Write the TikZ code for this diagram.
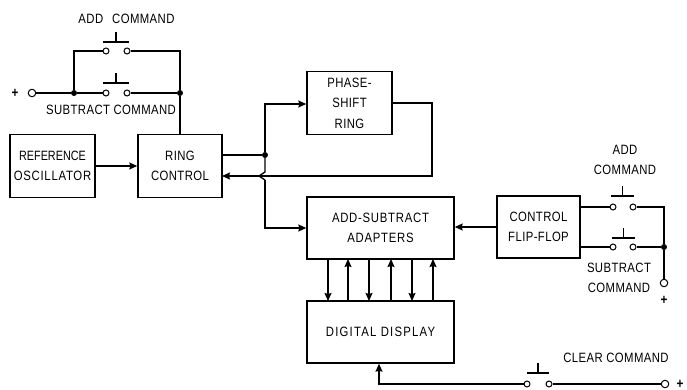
\documentclass[tikz,border=0pt]{standalone}
\usepackage{fontspec}
\setmainfont[FakeStretch=0.84,LetterSpace=3]{Liberation Sans}
\newfontfamily\widefont[FakeStretch=0.84,LetterSpace=9]{Liberation Sans}
\newfontfamily\midfont[FakeStretch=0.84,LetterSpace=5.5]{Liberation Sans}
\newfontfamily\tightfont[FakeStretch=0.8,LetterSpace=0]{Liberation Sans}
\usetikzlibrary{arrows.meta}
\tikzset{
  x=1pt,y=-1pt,
  wire/.style={line width=1.3pt,line join=miter},
  flow/.style={wire,-{Stealth[length=8pt,width=7pt,inset=1pt]}},
  blockbox/.style={draw,line width=1.4pt,inner sep=0pt,align=center,font=\fontsize{13.5}{20.5}\selectfont},
  label/.style={inner sep=0pt,align=center,font=\fontsize{13.5}{20.5}\selectfont},
  contact/.style={circle,draw,line width=1pt,fill=white,inner sep=0pt,minimum size=6pt},
  terminal/.style={circle,draw,line width=1pt,fill=white,inner sep=0pt,minimum size=7.5pt},
  dotj/.style={circle,fill=black,inner sep=0pt,minimum size=6pt},
  plus/.style={inner sep=0pt,font=\fontsize{14}{14}\selectfont\bfseries},
}
\newcommand{\pushbtn}[4]{% name, bar left, bar right, bar y
  \coordinate (#1l) at (#2,#4);
  \coordinate (#1r) at (#3,#4);
  \coordinate (#1b) at ({(#2+#3)/2},#4);
  \coordinate (#1t) at ({(#2+#3)/2},#4-10);
  \draw[wire] (#1l) -- (#1r);
  \draw[wire] (#1b) -- (#1t);
}
\begin{document}
\begin{tikzpicture}
\useasboundingbox (0,0) rectangle (687,390);
% blocks
\node[blockbox,minimum width=85pt,minimum height=63pt] (ref) at (52.5,166) {{\tightfont REFERENCE}\\{\midfont OSCILLATOR}};
\node[blockbox,minimum width=84pt,minimum height=63pt] (ring) at (180,166) {RING\\CONTROL};
\node[blockbox,minimum width=85pt,minimum height=63pt] (phase) at (349.5,103) {PHASE-\\SHIFT\\RING};
\node[blockbox,minimum width=147pt,minimum height=62pt] (adapt) at (380.5,228) {\midfont ADD-SUBTRACT\\\midfont ADAPTERS};
\node[blockbox,minimum width=83pt,minimum height=62pt] (ff) at (538.5,227) {CONTROL\\FLIP-FLOP};
\node[blockbox,minimum width=147pt,minimum height=62pt] (disp) at (380.5,332) {\widefont DIGITAL DISPLAY};
% top-left switches
\node[plus] (p1) at (15,93) {+};
\node[terminal] (t1) at (32,93) {};
\node[dotj] (j1) at (74,93) {};
\coordinate (c1) at (74,51);
\node[contact] (a1) at (106,51) {};
\node[contact] (a2) at (127,51) {};
\node[contact] (s1) at (106,93) {};
\node[contact] (s2) at (127,93) {};
\node[dotj] (j2) at (180,93) {};
\coordinate (c2) at (180,51);
\coordinate (r1) at (180,135);
\draw[wire,line width=1.7pt] (t1) -- (j1) -- (s1);
\draw[wire,line width=1.7pt] (j1) -- (c1) -- (a1);
\draw[wire] (a2) -- (c2) -- (j2) -- (r1);
\draw[wire] (s2) -- (j2);
\pushbtn{ba}{103}{129}{42}
\pushbtn{bs}{103}{129}{83}
\node[label] (tadd) at (126.5,19) {ADD\hspace{9pt}COMMAND};
\node[label] (tsub) at (111,110) {SUBTRACT COMMAND};
% centre
\draw[flow] (ref.east) -- (ring.west |- ref.east);
\coordinate (ro) at (222,155);
\node[dotj] (j3) at (265,155) {};
\coordinate (u1) at (265,104);
\coordinate (d1) at (265,180);
\coordinate (d0) at (265,172);
\coordinate (d2) at (265,228);
\coordinate (hop) at (259,176);
\coordinate (ph1) at (432,103);
\coordinate (ph2) at (432,176);
\coordinate (ri) at (222,176);
\draw[wire] (ro) -- (j3);
\draw[flow] (j3) -- (u1) -- (phase.west |- u1);
\draw[wire] (j3) -- (d0) -- (hop) -- (d1);
\draw[flow] (d1) -- (d2) -- (adapt.west |- d2);
\draw[flow] (phase.east |- ph1) -- (ph1) -- (ph2) -- (ri);
\draw[flow] (ff.west) -- (adapt.east |- ff.west);
% bus
\foreach \nm/\xx in {a/328,c/369,e/412}{
  \coordinate (bt\nm) at (\xx,259);
  \coordinate (bb\nm) at (\xx,301);
  \draw[flow] (bt\nm) -- (bb\nm);
}
\foreach \nm/\xx in {b/348,d/391,f/433}{
  \coordinate (bt\nm) at (\xx,259);
  \coordinate (bb\nm) at (\xx,301);
  \draw[flow] (bb\nm) -- (bt\nm);
}
% right switches
\coordinate (f1) at (580,207);
\coordinate (f2) at (580,247);
\node[contact] (e1) at (613,207) {};
\node[contact] (e2) at (633,207) {};
\node[contact] (g1) at (613,247) {};
\node[contact] (g2) at (633,247) {};
\coordinate (c3) at (664,207);
\node[dotj] (j4) at (664,247) {};
\node[terminal] (t2) at (664,283) {};
\node[plus] (p2) at (664,300) {+};
\draw[wire] (f1) -- (e1);
\draw[wire] (f2) -- (g1);
\draw[wire] (e2) -- (c3) -- (j4) -- (t2);
\draw[wire] (g2) -- (j4);
\pushbtn{be}{611}{634}{196}
\pushbtn{bg}{612}{635}{238}
\node[label] (tradd) at (625,160) {ADD\\COMMAND};
\node[label] (trsub) at (619,278) {SUBTRACT\\COMMAND};
% clear
\node[contact] (k1) at (527,384) {};
\node[contact] (k2) at (549,384) {};
\node[terminal] (t3) at (665,384) {};
\node[plus] (p3) at (680,384) {+};
\coordinate (k0) at (379,384);
\draw[flow] (k1) -- (k0) -- (disp.south -| k0);
\draw[wire] (k2) -- (t3);
\pushbtn{bk}{527}{549}{373}
\node[label] (tclr) at (616,358) {CLEAR COMMAND};
\end{tikzpicture}
\end{document}
